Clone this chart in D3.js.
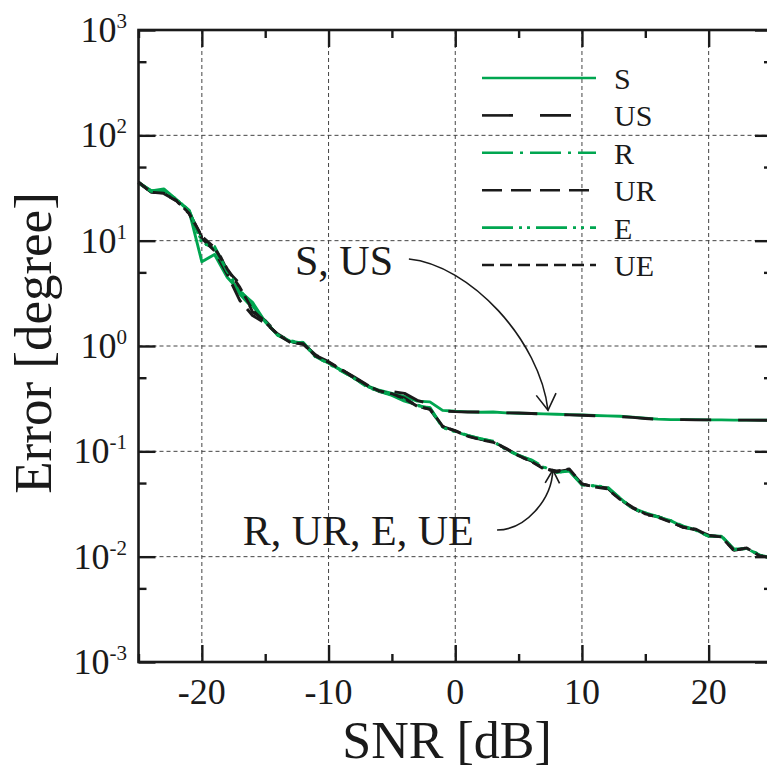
<!DOCTYPE html>
<html>
<head>
<meta charset="utf-8">
<script src="https://cdn.jsdelivr.net/npm/d3@7"></script>
<style>
  body { margin: 0; background: #fff; }
  svg { display: block; }
  text { font-family: "Liberation Serif", "Times New Roman", Times, serif; fill: #1a1a1a; }
</style>
</head>
<body>
<svg id="chart" width="767" height="771"></svg>
<script>
// SNR sweep in dB
const snr = [-25,-24,-23,-22,-21,-20,-19,-18,-17,-16,-15,-14,-13,-12,-11,-10,-9,-8,-7,-6,-5,-4,-3,-2,-1,
             0,1,2,3,4,5,6,7,8,9,10,11,12,13,14,15,16,17,18,19,20,21,22,23,24,25];

// Estimation error in degrees for each method
const errS  = [36,29.6,31,24.5,19,6.3,7.4,4.5,3.3,2.6,1.7,1.27,1.1,1.07,0.80,0.69,0.59,0.50,0.42,0.38,0.355,0.33,0.30,0.295,0.245,
               0.24,0.237,0.235,0.236,0.232,0.23,0.229,0.227,0.225,0.223,0.221,0.219,0.217,0.215,0.211,0.206,0.202,0.2,0.2,0.2,0.199,0.199,0.198,0.198,0.198,0.197];
const errUS = [35.5,29,28.5,24,18.5,10.8,9.3,5.2,3.9,2.1,1.75,1.3,1.1,1.05,0.82,0.70,0.60,0.51,0.43,0.375,0.37,0.355,0.305,0.28,0.242,
               0.238,0.236,0.236,0.234,0.232,0.231,0.229,0.226,0.224,0.222,0.22,0.218,0.216,0.214,0.21,0.205,0.201,0.2,0.2,0.199,0.199,0.199,0.198,0.198,0.197,0.197];
const errR  = [35,30,29.5,24.8,19.2,9.8,8.4,5.0,3.1,2.3,1.72,1.26,1.12,1.08,0.79,0.68,0.58,0.50,0.41,0.37,0.34,0.30,0.275,0.26,0.17,
               0.155,0.142,0.131,0.125,0.105,0.092,0.082,0.07,0.063,0.066,0.048,0.047,0.045,0.036,0.029,0.026,0.024,0.022,0.0195,0.018,0.0155,0.0158,0.0118,0.012,0.0105,0.0096];
const errUR = [36,29,28,24,18,10.5,8.0,4.8,2.7,1.95,1.65,1.3,1.1,1.04,0.81,0.71,0.6,0.5,0.42,0.37,0.35,0.32,0.27,0.25,0.172,
               0.157,0.14,0.13,0.123,0.107,0.09,0.081,0.069,0.064,0.067,0.049,0.046,0.045,0.035,0.029,0.025,0.024,0.0215,0.019,0.018,0.016,0.0155,0.0115,0.0121,0.0103,0.0097];
const errE  = [35.5,29.5,29.8,24.6,19.4,9.4,8.8,5.1,3.4,2.4,1.7,1.27,1.1,1.07,0.78,0.69,0.585,0.495,0.415,0.372,0.345,0.305,0.272,0.258,0.168,
               0.153,0.141,0.132,0.124,0.104,0.091,0.083,0.071,0.063,0.065,0.048,0.047,0.046,0.036,0.0285,0.026,0.0238,0.022,0.0192,0.0178,0.0156,0.0156,0.0117,0.0119,0.0104,0.0096];
const errUE = [36,28.8,28.2,23.8,18.2,11,8.6,5.4,3.6,2.2,1.68,1.28,1.08,1.05,0.8,0.70,0.595,0.505,0.425,0.375,0.352,0.315,0.268,0.252,0.174,
               0.156,0.139,0.129,0.122,0.106,0.091,0.08,0.068,0.065,0.068,0.049,0.046,0.044,0.035,0.0295,0.0255,0.0237,0.0213,0.019,0.0182,0.0158,0.0154,0.0114,0.0121,0.0102,0.0098];

const seriesNames = ["S", "US", "R", "UR", "E", "UE"];
const seriesValues = [errS, errUS, errR, errUR, errE, errUE];

// Axis ticks
const xTicks = [-20, -10, 0, 10, 20];
const xMinorTicks = [-25, -15, -5, 5, 15, 25];
const yExponents = [-3, -2, -1, 0, 1, 2, 3];
const yMinorTicks = [0.005, 0.05, 0.5, 5, 50, 500];

// Annotations: label, label anchor [snr, err], arrow start [snr, err], arrow tip [snr, err]
const annotations = [
  { label: "S, US",        text: [-12.65, 4.72],  from: [-3.66, 6.7],   to: [7.32, 0.245] },
  { label: "R, UR, E, UE", text: [-16.77, 0.0129], from: [3.3, 0.0179], to: [7.7, 0.0665] }
];

const GREEN = "#00a650", BLACK = "#1a1a1a";
const styles = {
  S:  { color: GREEN, dash: null },
  US: { color: BLACK, dash: "31,27" },
  R:  { color: GREEN, dash: "31,7,3,7" },
  UR: { color: BLACK, dash: "20,9" },
  E:  { color: GREEN, dash: "31,6,3,5,3,6" },
  UE: { color: BLACK, dash: "12,6" }
};

const svg = d3.select("#chart");
const plotLeft = 138.5, plotRight = 772, plotTop = 30, plotBottom = 662;

const x = d3.scaleLinear().domain([-25, 25]).range([plotLeft, plotRight]);
const y = d3.scaleLog().domain([1e-3, 1e3]).range([plotBottom, plotTop]);

// Grid
const grid = svg.append("g").attr("stroke", "#444").attr("stroke-width", 1).attr("stroke-dasharray", "4,3");
grid.selectAll("line.gx").data(xTicks).join("line").attr("class", "gx")
  .attr("x1", d => x(d)).attr("x2", d => x(d)).attr("y1", plotTop).attr("y2", plotBottom);
grid.selectAll("line.gy").data(yExponents.slice(1, -1)).join("line").attr("class", "gy")
  .attr("y1", d => y(Math.pow(10, d))).attr("y2", d => y(Math.pow(10, d))).attr("x1", plotLeft).attr("x2", plotRight);

// Curves
const line = d3.line().x((d, i) => x(snr[i])).y(d => y(d));
const curves = svg.append("g").attr("fill", "none");
seriesNames.forEach((name, k) => {
  curves.append("path")
    .attr("d", line(seriesValues[k]))
    .attr("stroke", styles[name].color)
    .attr("stroke-width", 2.9)
    .attr("stroke-linejoin", "round")
    .attr("stroke-dasharray", styles[name].dash);
});

// Axes with inward ticks on all four sides
const MAJ = 17, MIN = 8;
const axisG = svg.append("g");
function styleAxis(g) {
  g.select(".domain").remove();
  g.selectAll(".tick line").attr("stroke", BLACK).attr("stroke-width", 2.4);
  g.selectAll(".tick text").remove();
}
axisG.append("g").attr("transform", `translate(0,${plotBottom})`)
  .call(d3.axisBottom(x).tickValues(xTicks).tickSize(-MAJ)).call(styleAxis);
axisG.append("g").attr("transform", `translate(0,${plotBottom})`)
  .call(d3.axisBottom(x).tickValues(xMinorTicks).tickSize(-MIN)).call(styleAxis);
axisG.append("g").attr("transform", `translate(0,${plotTop})`)
  .call(d3.axisTop(x).tickValues(xTicks).tickSize(-MAJ)).call(styleAxis);
axisG.append("g").attr("transform", `translate(0,${plotTop})`)
  .call(d3.axisTop(x).tickValues(xMinorTicks).tickSize(-MIN)).call(styleAxis);
const yMajorVals = yExponents.map(e => Math.pow(10, e));
axisG.append("g").attr("transform", `translate(${plotLeft},0)`)
  .call(d3.axisLeft(y).tickValues(yMajorVals).tickSize(-MAJ)).call(styleAxis);
axisG.append("g").attr("transform", `translate(${plotLeft},0)`)
  .call(d3.axisLeft(y).tickValues(yMinorTicks).tickSize(-MIN)).call(styleAxis);
axisG.append("g").attr("transform", `translate(${plotRight},0)`)
  .call(d3.axisRight(y).tickValues(yMajorVals).tickSize(-MAJ)).call(styleAxis);
axisG.append("g").attr("transform", `translate(${plotRight},0)`)
  .call(d3.axisRight(y).tickValues(yMinorTicks).tickSize(-MIN)).call(styleAxis);
axisG.append("rect").attr("x", plotLeft).attr("y", plotTop)
  .attr("width", plotRight - plotLeft).attr("height", plotBottom - plotTop)
  .attr("fill", "none").attr("stroke", BLACK).attr("stroke-width", 2.6);

// Tick labels
svg.append("g").selectAll("text").data(xTicks).join("text")
  .attr("x", d => x(d)).attr("y", 704).attr("text-anchor", "middle")
  .attr("font-size", 36).text(d => d);
const yl = svg.append("g").selectAll("text").data(yExponents).join("text")
  .attr("x", 127).attr("y", d => y(Math.pow(10, d)) + 12).attr("text-anchor", "end")
  .attr("font-size", 36);
yl.append("tspan").text("10");
yl.append("tspan").attr("dy", -14).attr("font-size", 21).text(d => d);

// Axis titles
svg.append("text").attr("x", 447).attr("y", 758).attr("text-anchor", "middle")
  .attr("font-size", 52).text("SNR [dB]");
svg.append("text").attr("transform", `translate(51,${(plotTop + plotBottom) / 2 - 3}) rotate(-90)`)
  .attr("text-anchor", "middle").attr("font-size", 53).text("Error [degree]");

// Legend
const legend = svg.append("g");
seriesNames.forEach((name, k) => {
  const ly = 78 + k * 37.4;
  legend.append("line").attr("x1", 482).attr("x2", 596).attr("y1", ly).attr("y2", ly)
    .attr("stroke", styles[name].color).attr("stroke-width", 2.6)
    .attr("stroke-dasharray", styles[name].dash);
  legend.append("text").attr("x", 614).attr("y", ly + 11).attr("font-size", 30).text(name);
});

// Annotations with curved arrows
const ann = svg.append("g");
annotations.forEach((a, k) => {
  ann.append("text").attr("x", x(a.text[0])).attr("y", y(a.text[1]))
    .attr("font-size", 42).text(a.label);
  const p0 = [x(a.from[0]), y(a.from[1])];
  const p3 = [x(a.to[0]), y(a.to[1])];
  let c1, c2;
  if (k === 0) {
    c1 = [p0[0] + 61, p0[1] + 6];
    c2 = [p3[0] - 8, p3[1] - 70];
  } else {
    c1 = [p0[0] + 28, p0[1]];
    c2 = [p3[0] - 1, p3[1] + 30];
  }
  const path = d3.path();
  path.moveTo(p0[0], p0[1]);
  path.bezierCurveTo(c1[0], c1[1], c2[0], c2[1], p3[0], p3[1]);
  ann.append("path").attr("d", path.toString()).attr("fill", "none")
    .attr("stroke", BLACK).attr("stroke-width", 1.6);
  // open arrowhead aligned with the curve's final direction
  const ang = Math.atan2(p3[1] - c2[1], p3[0] - c2[0]);
  const len = k === 0 ? 19 : 15, spread = k === 0 ? 0.55 : 0.5;
  const w1 = [p3[0] - len * Math.cos(ang - spread), p3[1] - len * Math.sin(ang - spread)];
  const w2 = [p3[0] - len * Math.cos(ang + spread), p3[1] - len * Math.sin(ang + spread)];
  ann.append("path").attr("d", `M${w1[0]},${w1[1]}L${p3[0]},${p3[1]}L${w2[0]},${w2[1]}`)
    .attr("fill", "none").attr("stroke", BLACK).attr("stroke-width", 1.6);
});
</script>
</body>
</html>
